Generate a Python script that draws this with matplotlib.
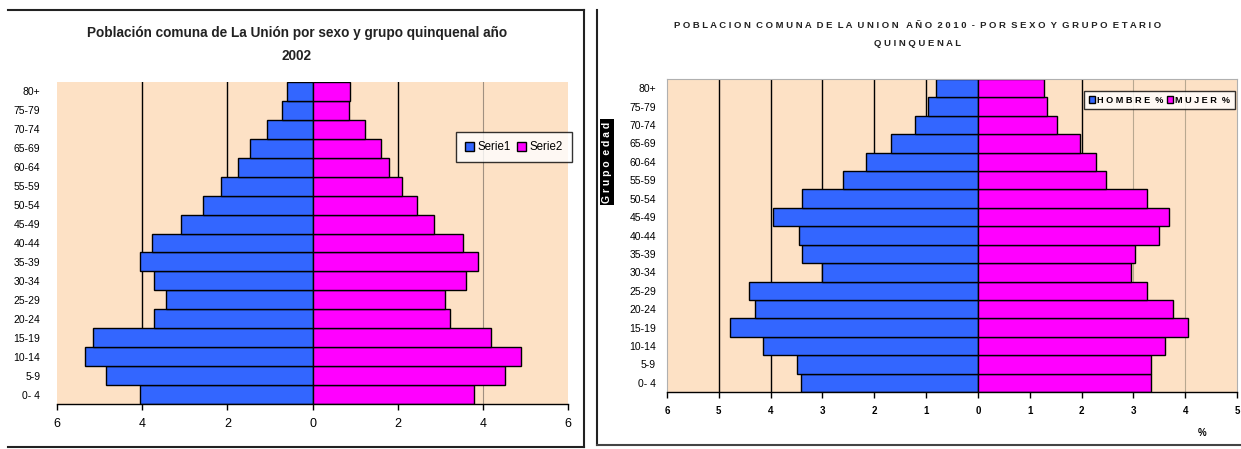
import numpy as np
import matplotlib
matplotlib.use('Agg')
import matplotlib.pyplot as plt
from matplotlib.lines import Line2D

plt.rcParams['font.family'] = ['Liberation Sans Narrow', 'Liberation Sans', 'DejaVu Sans']

# grupos de edad, de abajo hacia arriba
grupos = ['0- 4', '5-9', '10-14', '15-19', '20-24', '25-29', '30-34', '35-39',
          '40-44', '45-49', '50-54', '55-59', '60-64', '65-69', '70-74', '75-79', '80+']

# año 2002 (%)
serie1_2002 = [4.04, 4.85, 5.34, 5.15, 3.73, 3.45, 3.73, 4.04,
               3.76, 3.08, 2.57, 2.14, 1.74, 1.46, 1.08, 0.71, 0.59]
serie2_2002 = [3.79, 4.52, 4.90, 4.19, 3.22, 3.12, 3.60, 3.88,
               3.53, 2.85, 2.45, 2.10, 1.80, 1.61, 1.23, 0.85, 0.89]

# año 2010 (%)
hombre_2010 = [3.42, 3.49, 4.15, 4.79, 4.31, 4.41, 3.01, 3.39,
               3.46, 3.95, 3.39, 2.60, 2.16, 1.68, 1.22, 0.96, 0.81]
mujer_2010 = [3.34, 3.34, 3.62, 4.06, 3.77, 3.27, 2.95, 3.03,
              3.50, 3.68, 3.27, 2.47, 2.27, 1.97, 1.53, 1.33, 1.28]

AZUL = '#3366FF'
ROSA = '#FF00FF'
FONDO = '#FDE1C5'

W, H = 1241, 449
fig = plt.figure(figsize=(W / 100, H / 100), dpi=100)


def rect(x0, y0, x1, y1):
    # pixeles -> fraccion de figura
    return [x0 / W, 1 - y1 / H, (x1 - x0) / W, (y1 - y0) / H]


def linea(xs, ys, color='#222222', lw=1.5):
    fig.add_artist(Line2D([x / W for x in xs], [1 - y / H for y in ys],
                          color=color, lw=lw, transform=fig.transFigure))


y = np.arange(len(grupos))

# ---------------- grafico 2002 ----------------
ax1 = fig.add_axes(rect(57, 82, 568, 404))
ax1.set_facecolor(FONDO)
for g in [-4, -2, 2]:
    ax1.axvline(g, color='black', lw=1, zorder=1)
ax1.axvline(4, color='#a09080', lw=0.8, zorder=1)
ax1.barh(y, [-v for v in serie1_2002], height=1.0, color=AZUL,
         edgecolor='black', lw=1, zorder=2, label='Serie1')
ax1.barh(y, serie2_2002, height=1.0, color=ROSA,
         edgecolor='black', lw=1, zorder=2, label='Serie2')
ax1.set_xlim(-6, 6)
ax1.set_ylim(-0.5, len(grupos) - 0.5)
ax1.set_xticks(np.arange(-6, 7, 2))
ax1.set_xticklabels([str(abs(t)) for t in range(-6, 7, 2)], fontsize=9)
ax1.set_yticks(y)
ax1.set_yticklabels(grupos, fontsize=7.5)
ax1.tick_params(axis='y', length=0, pad=12)
ax1.tick_params(axis='x', direction='out', length=4, width=1, pad=6)
for s in ['top', 'left', 'right']:
    ax1.spines[s].set_visible(False)
ax1.spines['bottom'].set_linewidth(1)
leg1 = ax1.legend(loc='upper left', bbox_to_anchor=((456 - 57) / 511, 1 - (132 - 82) / 322),
                  ncol=2, fontsize=8.3, frameon=True, fancybox=False, handlelength=0.8,
                  handleheight=0.8, handletextpad=0.3, columnspacing=0.5,
                  borderpad=0.8, borderaxespad=0)
leg1.get_frame().set_edgecolor('black')
leg1.get_frame().set_linewidth(1)
leg1.set_zorder(5)

fig.text(297 / W, 1 - 33 / H, 'Población comuna de La Unión por sexo y grupo quinquenal año',
         ha='center', va='center', fontsize=9.8, fontweight='bold', color='#222222')
fig.text(297 / W, 1 - 56 / H, '2002', ha='center', va='center', fontsize=9.8,
         fontweight='bold', color='#222222')

# ---------------- grafico 2010 ----------------
ax2 = fig.add_axes(rect(667, 79, 1237, 392))
ax2.set_facecolor(FONDO)
for g in [-5, -4, -3, -2, -1, 1, 2]:
    ax2.axvline(g, color='black', lw=1, zorder=1)
for g in [3, 4]:
    ax2.axvline(g, color='#b8a890', lw=0.8, zorder=1)
ax2.barh(y, [-v for v in hombre_2010], height=1.0, color=AZUL,
         edgecolor='black', lw=1, zorder=2, label='H O M B R E  %')
ax2.barh(y, mujer_2010, height=1.0, color=ROSA,
         edgecolor='black', lw=1, zorder=2, label='M U J E R  %')
ax2.set_xlim(-6, 5)
ax2.set_ylim(-0.5, len(grupos) - 0.5)
ax2.set_xticks(np.arange(-6, 6, 1))
ax2.set_xticklabels([str(abs(t)) for t in range(-6, 6)], fontsize=7, fontweight='bold')
ax2.set_yticks(y)
ax2.set_yticklabels(grupos, fontsize=7.5)
ax2.tick_params(axis='y', length=0, pad=8)
ax2.tick_params(axis='x', direction='out', length=4, width=1, pad=6)
for s in ['top', 'left', 'right']:
    ax2.spines[s].set_color('#b0b0b0')
    ax2.spines[s].set_linewidth(0.8)
ax2.spines['bottom'].set_linewidth(1)
leg2 = ax2.legend(loc='upper left', bbox_to_anchor=((1084 - 667) / 570, 1 - (91 - 79) / 313),
                  ncol=2, frameon=True, fancybox=False, handlelength=0.7,
                  handleheight=0.7, handletextpad=0.2, columnspacing=0.4,
                  borderpad=0.5, borderaxespad=0, prop={'size': 6.6, 'weight': 'bold'})
leg2.get_frame().set_edgecolor('black')
leg2.get_frame().set_linewidth(1)
leg2.set_zorder(5)

fig.text(918 / W, 1 - 25 / H,
         'P O B L A C I O N  C O M U N A  D E  L A  U N I O N   A Ñ O  2 0 1 0  -  P O R  S E X O  Y  G R U P O  E T A R I O',
         ha='center', va='center', fontsize=6.8, fontweight='bold', color='#222222')
fig.text(918 / W, 1 - 43 / H, 'Q U I N Q U E N A L', ha='center', va='center',
         fontsize=6.8, fontweight='bold', color='#222222')
fig.text(607 / W, 1 - 162 / H, 'G r u p o  e d a d', rotation=90, ha='center', va='center',
         fontsize=7.5, fontweight='bold', color='white',
         bbox=dict(facecolor='black', edgecolor='none', pad=1.5))
fig.text(1202 / W, 1 - 433 / H, '%', ha='center', va='center', fontsize=7, fontweight='bold')

# marcos
linea([8, 584], [10, 10])
linea([584, 584], [10, 447])
linea([8, 584], [447, 447])
linea([597, 597], [10, 445])
linea([597, 1241], [445, 445], color='#444444')

fig.savefig('out.png', dpi=100)
